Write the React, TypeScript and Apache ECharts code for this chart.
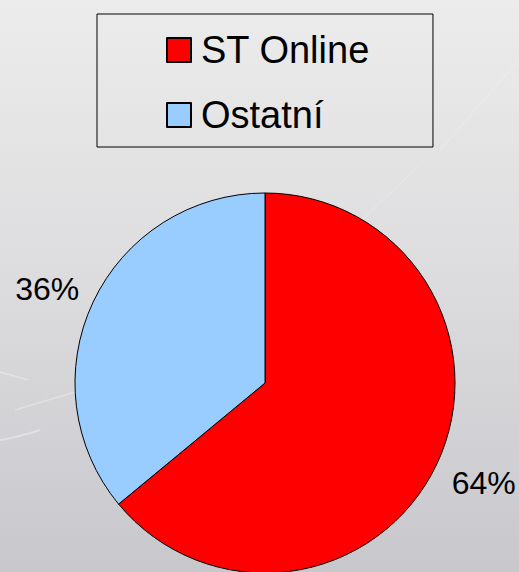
import React, { useEffect, useRef } from "react";
import * as echarts from "echarts";

const categories = ["ST Online", "Ostatní"];
const values = [64, 36];
const colors = ["#ff0000", "#99ccff"];

export default function App() {
  const ref = useRef<HTMLDivElement>(null);
  useEffect(() => {
    document.body.style.margin = "0";
    const chart = echarts.init(ref.current!, null, { renderer: "svg" });
    const font = "'Liberation Sans', Arial, sans-serif";
    chart.setOption({
      animation: false,
      backgroundColor: {
        type: "linear",
        x: 0,
        y: 0,
        x2: 0,
        y2: 1,
        colorStops: [
          { offset: 0, color: "#ececec" },
          { offset: 0.5, color: "#dcdcde" },
          { offset: 1, color: "#c8c7cc" },
        ],
      },
      graphic: [
        { type: "bezierCurve", silent: true, shape: { x1: 0, y1: 440, x2: 40, y2: 430, cpx1: 15, cpy1: 438 }, style: { stroke: "rgba(255,255,255,0.35)", lineWidth: 2, fill: null } },
        { type: "line", silent: true, shape: { x1: 15, y1: 410, x2: 75, y2: 392 }, style: { stroke: "rgba(255,255,255,0.3)", lineWidth: 1.5 } },
        { type: "line", silent: true, shape: { x1: 0, y1: 372, x2: 28, y2: 380 }, style: { stroke: "rgba(255,255,255,0.3)", lineWidth: 1.5 } },
        { type: "line", silent: true, shape: { x1: 340, y1: 240, x2: 420, y2: 165 }, style: { stroke: "rgba(255,255,255,0.25)", lineWidth: 1 } },
        { type: "line", silent: true, shape: { x1: 440, y1: 150, x2: 519, y2: 60 }, style: { stroke: "rgba(255,255,255,0.25)", lineWidth: 1 } },
      ],
      legend: {
        data: categories,
        orient: "vertical",
        left: 97,
        top: 14,
        padding: [17, 63, 13, 69],
        itemWidth: 24,
        itemHeight: 24,
        itemGap: 27,
        icon: "rect",
        selectedMode: false,
        borderColor: "#000",
        borderWidth: 1,
        textStyle: {
          fontSize: 38,
          fontFamily: font,
          color: "#000",
          lineHeight: 24,
          padding: [0, 0, 0, 5],
        },
      },
      series: [
        {
          type: "pie",
          center: [265, 383],
          radius: 190,
          startAngle: 90,
          clockwise: true,
          avoidLabelOverlap: false,
          itemStyle: { borderColor: "#000", borderWidth: 1 },
          emphasis: { disabled: true },
          label: {
            show: true,
            position: "outside",
            formatter: "{d}%",
            fontSize: 32,
            fontFamily: font,
            color: "#000",
          },
          labelLine: { show: false, length: 12, length2: 0 },
          labelLayout: (p: any) =>
            p.dataIndex === 0 ? { dx: -1, dy: 14 } : { dx: 2, dy: -8 },
          data: categories.map((name, i) => ({
            name,
            value: values[i],
            itemStyle: { color: colors[i] },
          })),
        },
      ],
    });
    return () => chart.dispose();
  }, []);
  return <div ref={ref} style={{ width: 519, height: 572 }} />;
}
